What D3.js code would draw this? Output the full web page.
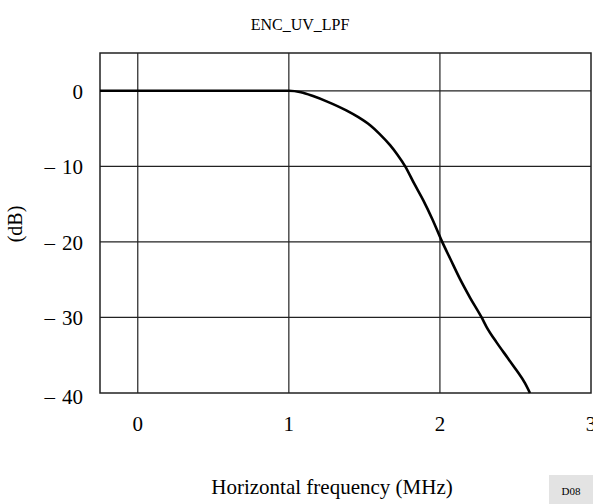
<!DOCTYPE html>
<html>
<head>
<meta charset="utf-8">
<script src="https://cdn.jsdelivr.net/npm/d3@7"></script>
<style>
  body { margin: 0; background: #fff; }
  svg { display: block; font-family: "Liberation Serif", "Times New Roman", serif; }
</style>
</head>
<body>
<div id="chart"></div>
<script>
// response of the UV low pass filter
var freq = [-0.25, 0, 0.5, 0.9, 1.0, 1.08, 1.16, 1.25, 1.38, 1.46, 1.54, 1.6, 1.67, 1.72, 1.77,
            1.83, 1.89, 1.95, 2.015, 2.07, 2.13, 2.2, 2.276, 2.31, 2.375, 2.45, 2.507, 2.563, 2.596];
var gain = [0, 0, 0, 0, 0, -0.2, -0.7, -1.4, -2.6, -3.5, -4.6, -5.7, -7.2, -8.5, -10,
            -12.3, -14.5, -17.0, -20, -22.3, -24.8, -27.4, -30, -31.3, -33.3, -35.4, -37.0, -38.7, -40];

var xTicks = [0, 1, 2, 3];
var yTicks = [0, -10, -20, -30, -40];
var yTickLabels = ["0", "\u2013\u200410", "\u2013\u200420", "\u2013\u200430", "\u2013\u200440"];

var width = 593,
    height = 504,
    plotLeft = 100, plotRight = 591, plotTop = 53, plotBottom = 393;

var svg = d3.select('#chart')
    .append('svg')
    .attr('width', width)
    .attr('height', height);

var x = d3.scaleLinear()
    .domain([-0.25, 3])
    .range([plotLeft, plotRight]);

var y = d3.scaleLinear()
    .domain([-40, 5])
    .range([plotBottom, plotTop]);

// grid
svg.append('g')
    .selectAll('line')
    .data(xTicks.filter(function (d) { return d < 3; }))
    .enter().append('line')
    .attr('x1', function (d) { return x(d); })
    .attr('x2', function (d) { return x(d); })
    .attr('y1', plotTop)
    .attr('y2', plotBottom)
    .style('stroke', '#222')
    .style('stroke-width', 1.2);

svg.append('g')
    .selectAll('line')
    .data(yTicks.filter(function (d) { return d > -40; }))
    .enter().append('line')
    .attr('x1', plotLeft)
    .attr('x2', plotRight)
    .attr('y1', function (d) { return y(d); })
    .attr('y2', function (d) { return y(d); })
    .style('stroke', '#222')
    .style('stroke-width', 1.2);

// frame
svg.append('rect')
    .attr('x', plotLeft)
    .attr('y', plotTop)
    .attr('width', plotRight - plotLeft)
    .attr('height', plotBottom - plotTop)
    .style('fill', 'none')
    .style('stroke', '#222')
    .style('stroke-width', 1.5);

// curve
var line = d3.line()
    .x(function (d, i) { return x(freq[i]); })
    .y(function (d) { return y(d); })
    .curve(d3.curveMonotoneX);

svg.append('path')
    .datum(gain)
    .attr('d', line)
    .style('fill', 'none')
    .style('stroke', '#000')
    .style('stroke-width', 2.6);

// tick labels
svg.append('g')
    .selectAll('text')
    .data(yTicks)
    .enter().append('text')
    .attr('x', plotLeft - 17)
    .attr('y', function (d) { return y(d) + 8 + (d === -40 ? 3 : 0); })
    .attr('text-anchor', 'end')
    .style('font-size', '21px')
    .text(function (d, i) { return yTickLabels[i]; });

svg.append('g')
    .selectAll('text')
    .data(xTicks)
    .enter().append('text')
    .attr('x', function (d) { return x(d); })
    .attr('y', 431)
    .attr('text-anchor', 'middle')
    .style('font-size', '21px')
    .text(function (d) { return d; });

// titles
svg.append('text')
    .attr('x', 300)
    .attr('y', 30)
    .attr('text-anchor', 'middle')
    .style('font-size', '16px')
    .text('ENC_UV_LPF');

svg.append('text')
    .attr('x', 332)
    .attr('y', 494)
    .attr('text-anchor', 'middle')
    .style('font-size', '21px')
    .text('Horizontal frequency (MHz)');

svg.append('text')
    .attr('transform', 'translate(22,224) rotate(-90)')
    .attr('text-anchor', 'middle')
    .style('font-size', '20px')
    .text('(dB)');

// figure code box
svg.append('rect')
    .attr('x', 549)
    .attr('y', 475)
    .attr('width', 44)
    .attr('height', 29)
    .style('fill', '#e3e3e3');

svg.append('text')
    .attr('x', 571)
    .attr('y', 495)
    .attr('text-anchor', 'middle')
    .style('font-size', '11px')
    .text('D08');
</script>
</body>
</html>
